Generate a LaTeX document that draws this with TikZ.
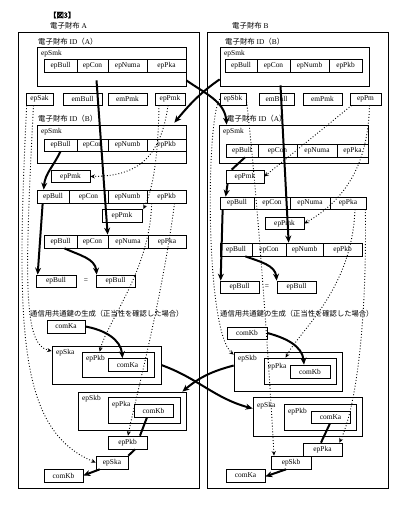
\documentclass[tikz,border=0pt]{standalone}
\usepackage{fontspec}
\setmainfont{Liberation Serif}
\newfontfamily\jp{Noto Sans CJK JP}[AutoFakeBold=2]
\usepackage{tikz}
\usetikzlibrary{arrows.meta,calc}

\begin{document}
\begin{tikzpicture}[x=1pt, y=1pt,
    cell/.style={rectangle, draw, line width=0.7pt, inner sep=0pt, minimum height=13pt, font=\fontsize{7.4}{8}\selectfont},
    frame/.style={rectangle, draw, line width=0.7pt, inner sep=0pt},
    tag/.style={anchor=west, inner sep=0pt, font=\fontsize{7.4}{8}\selectfont},
    jtag/.style={anchor=west, inner sep=0pt, font=\fontsize{7.3}{8}\selectfont\jp},
    key/.style={line width=2pt, -{Stealth[length=7pt, width=6pt]}},
    keyline/.style={line width=2pt},
    ref/.style={dotted, line width=0.9pt, -{Stealth[length=4.5pt, width=4pt]}}
]
\useasboundingbox (0,0) rectangle (408,-506);

% Headings
\node[jtag, font=\fontsize{7.3}{8}\selectfont\jp\bfseries] (fig) at (49,-15) {【図3】};
\node[tag] (headA) at (50,-26) {{\jp 電子財布} A};
\node[tag] (headB) at (232,-26) {{\jp 電子財布} B};

% Wallet A
\node[frame, minimum width=181pt, minimum height=456pt] (walletA) at (108.5,-260) {};
\node[tag] (idA1) at (38,-42) {{\jp 電子財布} ID{\jp （}A{\jp ）}};
\node[frame, minimum width=149pt, minimum height=39pt] (smkA1) at (111.5,-66.5) {};
\node[tag] (smkA1t) at (41,-53.5) {epSmk};
\node[cell, minimum width=33pt] (a1bull) at (60.5,-65.5) {epBull};
\node[cell, minimum width=31pt] (a1con) at (92.5,-65.5) {epCon};
\node[cell, minimum width=39pt] (a1numa) at (127.5,-65.5) {epNuma};
\node[cell, minimum width=39pt] (a1pka) at (166.5,-65.5) {epPka};

\node[cell, minimum width=27pt, minimum height=12pt] (sakA) at (39.5,-99) {epSak};
\node[cell, minimum width=39pt, minimum height=12pt] (embullA) at (82.5,-99) {emBull};
\node[cell, minimum width=39pt, minimum height=12pt] (empmkA) at (127.5,-99) {emPmk};
\node[cell, minimum width=30pt, minimum height=12pt] (pmkrowA) at (170,-99) {epPmk};

\node[tag] (idA2) at (38,-119) {{\jp 電子財布} ID{\jp （}B{\jp ）}};
\node[frame, minimum width=149pt, minimum height=38pt] (smkA2) at (111.5,-144) {};
\node[tag] (smkA2t) at (41,-132) {epSmk};
\node[cell, minimum width=33pt, minimum height=12pt] (a2bull) at (60.5,-145) {epBull};
\node[cell, minimum width=31pt, minimum height=12pt] (a2con) at (92.5,-145) {epCon};
\node[cell, minimum width=39pt, minimum height=12pt] (a2numb) at (127.5,-145) {epNumb};
\node[cell, minimum width=39pt, minimum height=12pt] (a2pkb) at (166.5,-145) {epPkb};

\node[cell, minimum width=39pt, minimum height=12pt] (pmkA1) at (70.5,-176.5) {epPmk};

\node[cell, minimum width=32pt] (a3bull) at (53,-196.5) {epBull};
\node[cell, minimum width=39pt] (a3con) at (88.5,-196.5) {epCon};
\node[cell, minimum width=39pt] (a3numb) at (127.5,-196.5) {epNumb};
\node[cell, minimum width=39pt] (a3pkb) at (166.5,-196.5) {epPkb};

\node[cell, minimum width=40pt] (pmkA2) at (122,-216) {epPmk};

\node[cell, minimum width=33pt] (a4bull) at (60.5,-241.5) {epBull};
\node[cell, minimum width=31pt] (a4con) at (92.5,-241.5) {epCon};
\node[cell, minimum width=40pt] (a4numa) at (128,-241.5) {epNuma};
\node[cell, minimum width=38pt] (a4pka) at (167,-241.5) {epPka};

\node[cell, minimum width=40pt, minimum height=12pt] (bullA1) at (56,-281) {epBull};
\node[tag, anchor=center] (eqA) at (86,-281) {=};
\node[cell, minimum width=39pt, minimum height=12pt] (bullA2) at (115.5,-281) {epBull};

\node[jtag] (genA) at (30,-314) {通信用共通鍵の生成（正当性を確認した場合）};
\node[cell, minimum width=38pt] (comKaA) at (66,-326.5) {comKa};
\node[frame, minimum width=109pt, minimum height=38pt] (skaA) at (106.5,-365) {};
\node[tag] (skaAt) at (56,-353) {epSka};
\node[frame, minimum width=72pt, minimum height=25pt] (pkbA) at (118,-364.5) {};
\node[tag] (pkbAt) at (86,-359) {epPkb};
\node[cell, minimum width=39pt] (comKaAin) at (127.5,-365) {comKa};

\node[frame, minimum width=108pt, minimum height=38pt] (skbA) at (132,-411) {};
\node[tag] (skbAt) at (82,-399) {epSkb};
\node[frame, minimum width=72pt, minimum height=26pt] (pkaA) at (144,-410) {};
\node[tag] (pkaAt) at (112,-405) {epPka};
\node[cell, minimum width=39pt] (comKbAin) at (153.5,-410.5) {comKb};

\node[cell, minimum width=39pt] (pkbAs) at (127.5,-442.5) {epPkb};
\node[cell, minimum width=32pt] (skaAs) at (112,-462.5) {epSka};
\node[cell, minimum width=39pt] (comKbA) at (63.5,-475.5) {comKb};

% Wallet B
\node[frame, minimum width=181pt, minimum height=456pt] (walletB) at (297.5,-260) {};
\node[tag] (idB1) at (225,-42) {{\jp 電子財布} ID{\jp （}B{\jp ）}};
\node[frame, minimum width=149pt, minimum height=39pt] (smkB1) at (294.5,-66.5) {};
\node[tag] (smkB1t) at (224,-53.5) {epSmk};
\node[cell, minimum width=32pt] (b1bull) at (241,-65.5) {epBull};
\node[cell, minimum width=33pt] (b1con) at (273.5,-65.5) {epCon};
\node[cell, minimum width=39pt] (b1numb) at (309.5,-65.5) {epNumb};
\node[cell, minimum width=33pt] (b1pkb) at (345.5,-65.5) {epPkb};

\node[cell, minimum width=26pt, minimum height=12pt] (sbkB) at (233,-99) {epSbk};
\node[cell, minimum width=35pt, minimum height=12pt] (embullB) at (276.5,-99) {emBull};
\node[cell, minimum width=39pt, minimum height=12pt] (empmkB) at (322.5,-99) {emPmk};
\node[cell, minimum width=31pt, minimum height=12pt] (pmB) at (365.5,-99) {epPm};

\node[tag] (idB2) at (227,-119) {{\jp 電子財布} ID{\jp （}A{\jp ）}};
\node[frame, minimum width=149pt, minimum height=38pt] (smkB2) at (293.5,-144) {};
\node[tag] (smkB2t) at (223,-132) {epSmk};
\node[cell, minimum width=32pt] (b2bull) at (242,-150.5) {epBull};
\node[cell, minimum width=39pt] (b2con) at (277.5,-150.5) {epCon};
\node[cell, minimum width=40pt] (b2numa) at (317,-150.5) {epNuma};
\node[cell, minimum width=31pt] (b2pka) at (352.5,-150.5) {epPka};

\node[cell, minimum width=38pt] (pmkB1) at (245,-176.5) {epPmk};

\node[cell, minimum width=34pt, minimum height=12pt] (b3bull) at (237,-203) {epBull};
\node[cell, minimum width=36pt, minimum height=12pt] (b3con) at (272,-203) {epCon};
\node[cell, minimum width=40pt, minimum height=12pt] (b3numa) at (310,-203) {epNuma};
\node[cell, minimum width=36pt, minimum height=12pt] (b3pka) at (348,-203) {epPka};

\node[cell, minimum width=39pt, minimum height=12pt] (pmkB2) at (284.5,-223.5) {epPmk};

\node[cell, minimum width=32pt] (b4bull) at (236,-249.5) {epBull};
\node[cell, minimum width=34pt] (b4con) at (269,-249.5) {epCon};
\node[cell, minimum width=37pt] (b4numb) at (304.5,-249.5) {epNumb};
\node[cell, minimum width=39pt] (b4pkb) at (342.5,-249.5) {epPkb};

\node[cell, minimum width=39pt, minimum height=12pt] (bullB1) at (239.5,-287) {epBull};
\node[tag, anchor=center] (eqB) at (267,-287) {=};
\node[cell, minimum width=39pt, minimum height=12pt] (bullB2) at (296.5,-287) {epBull};

\node[jtag] (genB) at (220,-314) {通信用共通鍵の生成（正当性を確認した場合）};
\node[cell, minimum width=40pt, minimum height=12pt] (comKbB) at (247,-333) {comKb};
\node[frame, minimum width=108pt, minimum height=39pt] (skbB) at (288,-371.5) {};
\node[tag] (skbBt) at (238,-359) {epSkb};
\node[frame, minimum width=72pt, minimum height=26pt] (pkaB) at (300,-371) {};
\node[tag] (pkaBt) at (268,-367) {epPka};
\node[cell, minimum width=40pt] (comKbBin) at (310,-371.5) {comKb};

\node[frame, minimum width=109pt, minimum height=39pt] (skaB) at (307.5,-416.5) {};
\node[tag] (skaBt) at (257,-406) {epSka};
\node[frame, minimum width=72pt, minimum height=26pt] (pkbB) at (320,-417) {};
\node[tag] (pkbBt) at (288,-412) {epPkb};
\node[cell, minimum width=39pt, minimum height=12pt] (comKaBin) at (330.5,-417) {comKa};

\node[cell, minimum width=39pt] (pkaBs) at (322.5,-449.5) {epPka};
\node[cell, minimum width=40pt] (skbBs) at (291,-462.5) {epSkb};
\node[cell, minimum width=39pt] (comKaB) at (245.5,-475.5) {comKa};

% Key exchange between the wallets
\draw[key] ($(smkA1.south east)+(0,6)$) to[out=-35, in=95] ($(smkB2.north west)+(8,0)$);
\draw[key] ($(smkB1.south west)+(0,7)$) to[out=-145, in=50] ($(smkA2.north east)+(-12,2)$);
\draw[key] (skaA.east) to[out=-20, in=165] ($(skaB.west)+(0,8)$);
\draw[key] ($(skbB.west)+(0,6)$) to[out=195, in=40] ($(skbA.north east)+(-4,0)$);

% Wallet A flow
\draw[key] ($(a1con.south)+(4,-8)$) -- (a4numa.north west);
\draw[key] (a2bull.south) to[out=-115, in=85] ($(a3bull.north west)+(7,0)$);
\draw[key] ($(a3bull.south west)+(6,0)$) -- ($(bullA1.north west)+(2,0)$);
\draw[key] ($(a4bull.south)+(4,0)$) to[out=-25, in=95] ($(bullA2.north west)+(1,0)$);
\draw[key] (comKaA.east) to[out=-10, in=95] ($(comKaAin.north)+(-5,0)$);
\draw[keyline] ($(comKbAin.south)+(-6.5,0)$) -- ($(pkbAs.north)+(12.5,0)$);
\draw[keyline] ($(pkbAs.south)+(7.5,0)$) -- (skaAs.north east);
\draw[key] ($(skaAs.south west)+(4,0)$) -- (comKbA.east);

% Wallet B flow
\draw[key] ($(b1con.south)+(7,-13)$) -- ($(b4numb.north west)+(3,0)$);
\draw[keyline] ($(b2bull.south)+(3,0)$) -- ($(pmkB1.north west)+(6,0)$);
\draw[key] ($(pmkB1.south west)+(2,0)$) -- ($(b3bull.north west)+(6,0)$);
\draw[key] ($(b3bull.south west)+(3,0)$) -- ($(bullB1.north west)+(1,0)$);
\draw[key] ($(b4bull.south east)+(-7,0)$) to[out=-20, in=95] (bullB2.north west);
\draw[key] (comKbB.east) to[out=-15, in=95] ($(comKbBin.north)+(-6,0)$);
\draw[keyline] ($(comKaBin.south)+(-0.5,0)$) -- ($(pkaBs.north)+(-1.5,0)$);
\draw[key] ($(skbBs.south)+(-5,0)$) -- ($(comKaB.east)+(0,-1)$);

% Key references, wallet A
\draw[ref] ($(sakA.south)+(-6,0)$) .. controls (24,-290) and (24,-345) .. ($(skaA.west)+(0,14)$);
\draw[ref] ($(sakA.south west)+(1,0)$) .. controls (16,-330) and (18,-430) .. (skaAs.west);
\draw[ref] ($(pmkrowA.south)+(-2,0)$) .. controls (160,-165) and (130,-176) .. (pmkA1.east);
\draw[ref] ($(pmkrowA.south)+(-11,0)$) .. controls (158,-170) and (150,-195) .. ($(pmkA2.north east)+(1,0)$);
\draw[ref] ($(a3pkb.south west)+(5,0)$) .. controls (150,-270) and (108,-320) .. ($(pkbA.north west)+(18,0)$);
\draw[ref] ($(a3pkb.south)+(8,0)$) .. controls (162,-300) and (135,-400) .. ($(pkbAs.north)+(0.5,0)$);

% Key references, wallet B
\draw[ref] (sbkB.west) .. controls (206,-120) and (205,-330) .. ($(skbB.north west)+(0,-3)$);
\draw[ref] (sbkB.east) .. controls (258,-200) and (270,-380) .. ($(skbBs.north)+(-17,0)$);
\draw[ref] ($(pmB.south west)+(2,0)$) -- (pmkB1.east);
\draw[ref] ($(pmB.south)+(4,0)$) .. controls (368,-165) and (345,-200) .. (pmkB2.east);
\draw[ref] ($(b3pka.south)+(7,0)$) .. controls (352,-290) and (300,-330) .. ($(pkaB.north west)+(22,0)$);
\draw[ref] ($(b3pka.south east)+(-1,0)$) .. controls (367,-330) and (355,-410) .. ($(pkaBs.north east)+(-3,0)$);

\end{tikzpicture}
\end{document}
